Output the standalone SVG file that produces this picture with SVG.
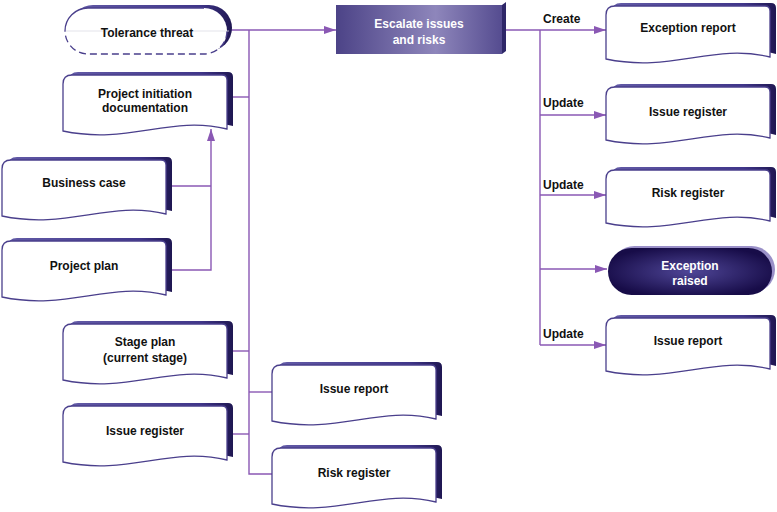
<svg xmlns="http://www.w3.org/2000/svg" xmlns:xlink="http://www.w3.org/1999/xlink" width="777" height="512" viewBox="0 0 777 512">
<style>
text{font-family:"Liberation Sans",Arial,sans-serif;font-weight:bold;font-size:12px;fill:#111;text-anchor:middle;dominant-baseline:central}
.lbl{text-anchor:start}
.wt{fill:#fff}
.body{fill:#fff;stroke:#4a3f8c;stroke-width:1.3}
.conn{fill:none;stroke:#8a58b4;stroke-width:1.4}
</style>
<defs>
<linearGradient id="sh" x1="0" y1="0" x2="1" y2="0">
<stop offset="0" stop-color="#625aa6"/>
<stop offset="0.8" stop-color="#40368a"/>
<stop offset="1" stop-color="#1f1752"/>
</linearGradient>
<linearGradient id="esc" x1="0" y1="0" x2="1" y2="0">
<stop offset="0" stop-color="#4c4387"/>
<stop offset="0.6" stop-color="#8e86bb"/>
<stop offset="1" stop-color="#554c90"/>
</linearGradient>
<radialGradient id="exc" cx="0.5" cy="0.5" r="0.55">
<stop offset="0" stop-color="#4f4697"/>
<stop offset="1" stop-color="#170c48"/>
</radialGradient>
<path id="docL" d="M0,9 Q0,0 9,0 H159 Q164,0 164,5 V54 C106.6,40 65.6,70 0,56 Z"/>
<path id="docR" d="M0,9 Q0,0 9,0 H159 Q164,0 164,5 V51 C106.6,37 65.6,67 0,53 Z"/>
<g id="dL"><use xlink:href="#docL" transform="translate(6,-3)" fill="url(#sh)"/><use xlink:href="#docL" class="body"/></g>
<g id="dR"><use xlink:href="#docR" transform="translate(6,-3)" fill="url(#sh)"/><use xlink:href="#docR" class="body"/></g>
<marker id="ar" viewBox="0 0 12 8" refX="12" refY="4" markerWidth="12" markerHeight="8" markerUnits="userSpaceOnUse" orient="auto">
<path d="M0,0 L12,4 L0,8 Z" fill="#8a58b4"/>
</marker>
</defs>

<g id="connectors">
<path class="conn" d="M231,30 H336" marker-end="url(#ar)"/>
<path class="conn" d="M249,30 V474 H272"/>
<path class="conn" d="M231,97 H249"/>
<path class="conn" d="M231,351 H249"/>
<path class="conn" d="M231,434 H249"/>
<path class="conn" d="M249,392 H272"/>
<path class="conn" d="M170,186 H211"/>
<path class="conn" d="M170,270 H211 V129" marker-end="url(#ar)"/>
<path class="conn" d="M506,30 H606" marker-end="url(#ar)"/>
<path class="conn" d="M540,30 V345"/>
<path class="conn" d="M540,115 H606" marker-end="url(#ar)"/>
<path class="conn" d="M540,195 H606" marker-end="url(#ar)"/>
<path class="conn" d="M540,269 H607" marker-end="url(#ar)"/>
<path class="conn" d="M540,345 H606" marker-end="url(#ar)"/>
<text class="lbl" x="543" y="19">Create</text>
<text class="lbl" x="543" y="103">Update</text>
<text class="lbl" x="543" y="185">Update</text>
<text class="lbl" x="543" y="334">Update</text>
</g>

<g id="tolerance">
<rect x="70" y="5" width="162" height="46" rx="23" fill="url(#sh)"/>
<rect x="65" y="8" width="162" height="46" rx="23" fill="#fff"/>
<path d="M65,31 A23,23 0 0 1 88,8 H204" fill="none" stroke="#4a3f8c" stroke-width="1.3"/>
<path d="M227,31 A23,23 0 0 1 204,54 H88 A23,23 0 0 1 65,31" fill="none" stroke="#4a3f8c" stroke-width="1.3" stroke-dasharray="7,4"/>
<line x1="66" y1="31" x2="229" y2="31" stroke="#dcdce4" stroke-width="0.8"/>
<text x="147" y="33">Tolerance threat</text>
</g>

<g id="escalate">
<polygon points="502,5 506,2 506,51 502,54" fill="#2e2768"/>
<rect x="336" y="5" width="166" height="49" fill="url(#esc)"/>
<text class="wt" x="419" y="24">Escalate issues</text>
<text class="wt" x="419" y="40">and risks</text>
</g>

<g id="exception-report"><use xlink:href="#dR" transform="translate(606,6)"/><text x="688" y="28">Exception report</text></g>
<g id="issue-register-r"><use xlink:href="#dR" transform="translate(606,87)"/><text x="688" y="112">Issue register</text></g>
<g id="risk-register-r"><use xlink:href="#dR" transform="translate(606,170)"/><text x="688" y="193">Risk register</text></g>
<g id="exception-raised">
<rect x="611" y="246" width="164" height="47" rx="23.5" fill="#9a90c8"/>
<rect x="608" y="248" width="164" height="47" rx="23.5" fill="url(#exc)"/>
<text class="wt" x="690" y="266">Exception</text>
<text class="wt" x="690" y="281">raised</text>
</g>
<g id="issue-report-r"><use xlink:href="#dR" transform="translate(606,318)"/><text x="688" y="341">Issue report</text></g>

<g id="pid"><use xlink:href="#dL" transform="translate(63,75)"/><text x="145" y="94">Project initiation</text><text x="145" y="108">documentation</text></g>
<g id="business-case"><use xlink:href="#dL" transform="translate(2,160)"/><text x="84" y="183">Business case</text></g>
<g id="project-plan"><use xlink:href="#dL" transform="translate(2,241)"/><text x="84" y="266">Project plan</text></g>
<g id="stage-plan"><use xlink:href="#dL" transform="translate(63,324)"/><text x="145" y="342">Stage plan</text><text x="145" y="358">(current stage)</text></g>
<g id="issue-register-l"><use xlink:href="#dL" transform="translate(63,406)"/><text x="145" y="431">Issue register</text></g>
<g id="issue-report-m"><use xlink:href="#dL" transform="translate(272,365)"/><text x="354" y="389">Issue report</text></g>
<g id="risk-register-m"><use xlink:href="#dL" transform="translate(272,448)"/><text x="354" y="473">Risk register</text></g>
</svg>
